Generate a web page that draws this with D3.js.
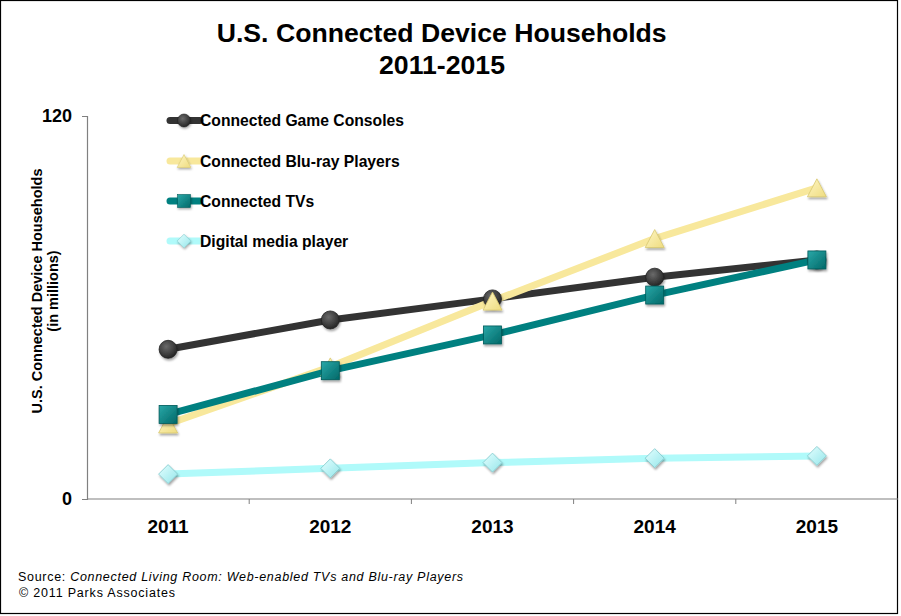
<!DOCTYPE html>
<html><head><meta charset="utf-8">
<script src="https://cdn.jsdelivr.net/npm/d3@7"></script>
<style>
body{margin:0;background:#fff;}
svg{display:block;}
</style></head>
<body>
<svg id="chart" width="901" height="616"></svg>
<script>
const years = ["2011","2012","2013","2014","2015"];
const gameConsoles = [46.9, 56.1, 62.7, 69.5, 74.9];
const bluRay = [23.5, 41.4, 62.0, 81.6, 97.5];
const connectedTVs = [26.5, 40.2, 51.4, 63.9, 74.9];
const mediaPlayer = [7.8, 9.6, 11.4, 12.8, 13.5];
const yTicks = [0, 120];
const seriesNames = ["Connected Game Consoles","Connected Blu-ray Players","Connected TVs","Digital media player"];

const series = [
  {name: seriesNames[0], values: gameConsoles, color: "#333333", marker: "circle", grad: "gGC"},
  {name: seriesNames[1], values: bluRay, color: "#f8e89c", marker: "triangle", grad: "gBR"},
  {name: seriesNames[2], values: connectedTVs, color: "#008080", marker: "square", grad: "gTV"},
  {name: seriesNames[3], values: mediaPlayer, color: "#b0fafa", marker: "diamond", grad: "gDM"}
];

const FONT = "'Liberation Sans',Arial,sans-serif";
const svg = d3.select("#chart");
const defs = svg.append("defs");
const f = defs.append("filter").attr("id","shadow").attr("x","-50%").attr("y","-50%").attr("width","200%").attr("height","200%");
f.append("feDropShadow").attr("dx",1).attr("dy",2).attr("stdDeviation",1.2).attr("flood-color","#000").attr("flood-opacity",0.35);

function grad(id, c1, c2){
  const g = defs.append("linearGradient").attr("id",id).attr("x1","0").attr("y1","0").attr("x2","1").attr("y2","1");
  g.append("stop").attr("offset","0%").attr("stop-color",c1);
  g.append("stop").attr("offset","100%").attr("stop-color",c2);
}
const rg = defs.append("radialGradient").attr("id","gGC").attr("cx","40%").attr("cy","35%").attr("r","65%");
rg.append("stop").attr("offset","0%").attr("stop-color","#6a6a6a");
rg.append("stop").attr("offset","100%").attr("stop-color","#262626");
grad("gBR","#fff6c4","#eedc80");
grad("gTV","#2aa8a8","#006868");
grad("gDM","#e4ffff","#95e6ea");

svg.append("rect").attr("x",0.5).attr("y",0.5).attr("width",897).attr("height",613)
  .attr("fill","#fff").attr("stroke","#000").attr("stroke-width",1.2);

const x = d3.scaleBand().domain(years).range([87, 898]).padding(0);
const y = d3.scaleLinear().domain([0,120]).range([499,116]);

// Title
const title = svg.append("g").attr("font-family",FONT).attr("font-weight","bold").attr("font-size",26).attr("fill","#000");
title.append("text").attr("x",216.7).attr("y",42).attr("textLength",450).attr("lengthAdjust","spacingAndGlyphs")
  .text("U.S. Connected Device Households");
title.append("text").attr("x",379).attr("y",74).attr("textLength",126).attr("lengthAdjust","spacingAndGlyphs")
  .text("2011-2015");

// Axes
const yAxis = d3.axisLeft(y).tickValues(yTicks).tickSize(5).tickPadding(10).tickFormat(d3.format("d"));
const gy = svg.append("g").attr("transform","translate(87,0)").call(yAxis);
gy.select(".domain").attr("stroke","#808080").attr("stroke-width",1.2);
gy.selectAll(".tick line").attr("stroke","#808080");
gy.selectAll(".tick text").attr("font-family",FONT)
  .attr("font-weight","bold").attr("font-size",18).attr("fill","#000");

const gx = svg.append("g").attr("transform","translate(0,499)");
gx.append("line").attr("x1",87).attr("x2",898).attr("y1",0).attr("y2",0).attr("stroke","#808080").attr("stroke-width",1.2);
gx.selectAll("line.tk").data(years.slice(1)).enter().append("line").attr("class","tk")
  .attr("x1",d=>x(d)).attr("x2",d=>x(d)).attr("y1",0).attr("y2",5).attr("stroke","#808080");
gx.selectAll("text").data(years).enter().append("text")
  .attr("x",d=>x(d)+x.bandwidth()/2).attr("y",34).attr("text-anchor","middle")
  .attr("font-family",FONT).attr("font-weight","bold").attr("font-size",19)
  .text(d=>d);

// Y title
svg.append("text").attr("transform","translate(42,291) rotate(-90)").attr("text-anchor","middle")
  .attr("font-family",FONT).attr("font-weight","bold").attr("font-size",14.5)
  .text("U.S. Connected Device Households");
svg.append("text").attr("transform","translate(58,291) rotate(-90)").attr("text-anchor","middle")
  .attr("font-family",FONT).attr("font-weight","bold").attr("font-size",14.5)
  .text("(in millions)");

function drawMarker(g, type, gradId, stroke){
  let m;
  if(type==="circle"){
    m = g.append("circle").attr("r",9);
  } else if(type==="triangle"){
    m = g.append("path").attr("d","M0,-9 L9.5,9 L-9.5,9 Z");
  } else if(type==="square"){
    m = g.append("rect").attr("x",-9).attr("y",-9).attr("width",18).attr("height",18);
  } else {
    m = g.append("path").attr("d","M0,-9.5 L9.5,0 L0,9.5 L-9.5,0 Z");
  }
  m.attr("fill","url(#"+gradId+")").attr("stroke",stroke).attr("stroke-width",0.8).attr("filter","url(#shadow)");
}

const line = d3.line().x((d,i)=>x(years[i])+x.bandwidth()/2).y(d=>y(d));
const strokes = {gGC:"#222", gBR:"#d8c870", gTV:"#005a5a", gDM:"#80c8cc"};

series.forEach(s=>{
  svg.append("path").datum(s.values).attr("d",line).attr("fill","none")
    .attr("stroke",s.color).attr("stroke-width",7).attr("stroke-linejoin","round");
});
series.forEach(s=>{
  s.values.forEach((v,i)=>{
    const g = svg.append("g").attr("transform",`translate(${x(years[i])+x.bandwidth()/2},${y(v)})`);
    drawMarker(g, s.marker, s.grad, strokes[s.grad]);
  });
});

// Legend
const legY = [120.5, 161, 201, 241];
series.forEach((s,i)=>{
  const g = svg.append("g").attr("transform",`translate(0,${legY[i]})`);
  g.append("line").attr("x1",170).attr("x2",200).attr("y1",0).attr("y2",0)
    .attr("stroke",s.color).attr("stroke-width",7).attr("stroke-linecap","round");
  const mg = g.append("g").attr("transform","translate(184,0) scale(0.72)");
  drawMarker(mg, s.marker, s.grad, strokes[s.grad]);
  g.append("text").attr("x",200).attr("y",5.5)
    .attr("font-family",FONT).attr("font-weight","bold").attr("font-size",15.7)
    .text(s.name);
});

// Source
const src = svg.append("text").attr("x",18).attr("y",581)
  .attr("font-family",FONT).attr("font-size",12.5).attr("textLength",445).attr("lengthAdjust","spacing");
src.append("tspan").text("Source: ");
src.append("tspan").attr("font-style","italic").text("Connected Living Room: Web-enabled TVs and Blu-ray Players");
svg.append("text").attr("x",19).attr("y",597)
  .attr("font-family",FONT).attr("font-size",12.5).attr("textLength",156).attr("lengthAdjust","spacing")
  .text("© 2011 Parks Associates");
</script>
</body></html>
